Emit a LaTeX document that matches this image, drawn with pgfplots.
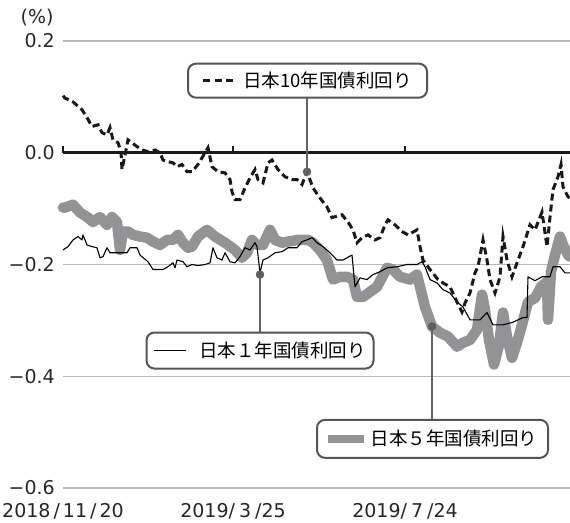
\documentclass[border=0pt]{standalone}
\usepackage{fontspec}
\setmainfont{DejaVu Sans}
\newfontfamily\jp{Noto Sans CJK JP}
\usepackage{pgfplots}
\pgfplotsset{compat=1.18}
\definecolor{gridgray}{RGB}{185,185,185}
\definecolor{sergray}{RGB}{147,147,150}
\definecolor{boxgray}{RGB}{85,85,85}
\definecolor{leadgray}{RGB}{100,100,100}
\definecolor{dotgray}{RGB}{95,95,95}
\newcommand{\dashsample}{{\color{black!90}\rule[5.5bp]{7bp}{2.8bp}\hspace{4.5bp}\rule[5.5bp]{7bp}{2.8bp}\hspace{4.5bp}\rule[5.5bp]{7bp}{2.8bp}}}
\newcommand{\solidsample}{{\color{black}\rule[6.2bp]{32bp}{1.1bp}}}
\newcommand{\graysample}{{\color{sergray}\rule[3bp]{36bp}{7.5bp}}}
\begin{document}
\begin{tikzpicture}
\begin{axis}[
  name=ax, at={(0,0)}, anchor=south west,
  scale only axis, width=507bp, height=447bp,
  xmin=0, xmax=507, ymin=-0.6, ymax=0.2,
  clip=false,
  axis line style={draw=none},
  major tick length=0pt,
  ytick={-0.6,-0.4,-0.2,0,0.2},
  yticklabels={−0.6,−0.4,−0.2,0.0,0.2},
  xtick={0,170,342},
  xticklabels={2018\kern3bp/\kern3bp11\kern3bp/\kern3bp20, 2019/\kern4bp3\kern4bp/25, 2019/\kern4bp7\kern4bp/24},
  ymajorgrids, grid style={color=gridgray, line width=1.3bp},
  tick label style={font=\fontsize{19bp}{22bp}\selectfont, color=black!85},
  yticklabel style={anchor=east, inner sep=0pt, xshift=-8bp},
  xticklabel style={anchor=base, inner sep=0pt, yshift=-29bp},
]
% zero line with small ticks
\draw[black!90, line width=2.6bp] (axis cs:0,0) -- (axis cs:507,0);
\draw[black!90, line width=2bp] (axis cs:0,0) -- (axis cs:0,0.0125);
\draw[black!90, line width=2bp] (axis cs:170,0) -- (axis cs:170,0.0125);
\draw[black!90, line width=2bp] (axis cs:342,0) -- (axis cs:342,0.0125);

% 5-year (thick gray)
\addplot[sergray, line width=10.5bp, line join=round, line cap=round] coordinates {
(0,-0.098) (2,-0.098) (10,-0.093) (17,-0.107) (25,-0.116) (30,-0.124) (37,-0.115) (44,-0.129) (49,-0.115) (54,-0.124) (57,-0.174) (60,-0.141) (65,-0.141) (70,-0.147) (77,-0.150) (84,-0.152) (90,-0.159) (97,-0.165) (104,-0.156) (110,-0.156) (115,-0.147) (120,-0.161) (125,-0.170) (129,-0.168) (135,-0.150) (144,-0.138) (152,-0.150) (162,-0.161) (172,-0.174) (179,-0.188) (184,-0.179) (189,-0.156) (194,-0.165) (200,-0.165) (207,-0.138) (212,-0.156) (219,-0.161) (225,-0.159) (235,-0.156) (245,-0.156) (250,-0.161) (257,-0.174) (264,-0.192) (270,-0.227) (277,-0.222) (284,-0.222) (290,-0.227) (294,-0.258) (300,-0.258) (307,-0.249) (314,-0.240) (324,-0.206) (330,-0.209) (337,-0.222) (347,-0.227) (354,-0.218) (357,-0.240) (362,-0.276) (369,-0.311) (377,-0.322) (385,-0.329) (394,-0.347) (400,-0.340) (407,-0.335) (414,-0.317) (419,-0.254) (422,-0.281) (426,-0.335) (431,-0.379) (436,-0.344) (440,-0.286) (444,-0.329) (449,-0.367) (454,-0.340) (459,-0.308) (465,-0.267) (472,-0.260) (478,-0.240) (484,-0.231) (485,-0.299) (488,-0.213) (492,-0.183) (497,-0.150) (500,-0.165) (505,-0.183) (507,-0.186)
};

% 1-year (thin black)
\addplot[black, line width=1.1bp, line join=round] coordinates {
(0,-0.174) (5,-0.168) (10,-0.156) (15,-0.150) (19,-0.156) (20,-0.147) (24,-0.165) (29,-0.168) (34,-0.170) (37,-0.188) (40,-0.186) (44,-0.170) (47,-0.179) (55,-0.179) (64,-0.179) (67,-0.170) (74,-0.170) (77,-0.183) (85,-0.195) (90,-0.209) (100,-0.209) (105,-0.204) (110,-0.197) (112,-0.206) (114,-0.192) (120,-0.195) (124,-0.204) (129,-0.200) (135,-0.202) (142,-0.200) (147,-0.197) (150,-0.170) (154,-0.188) (159,-0.192) (162,-0.179) (167,-0.195) (172,-0.197) (177,-0.186) (182,-0.170) (187,-0.174) (192,-0.161) (194,-0.168) (197,-0.215) (200,-0.192) (205,-0.188) (212,-0.179) (219,-0.177) (225,-0.170) (234,-0.170) (239,-0.159) (244,-0.156) (249,-0.152) (254,-0.161) (260,-0.168) (267,-0.179) (274,-0.192) (280,-0.192) (289,-0.183) (292,-0.240) (297,-0.224) (304,-0.227) (310,-0.218) (317,-0.213) (324,-0.206) (334,-0.204) (344,-0.200) (354,-0.200) (359,-0.195) (362,-0.204) (367,-0.227) (374,-0.233) (380,-0.245) (387,-0.251) (394,-0.267) (400,-0.276) (407,-0.299) (417,-0.299) (424,-0.286) (430,-0.308) (440,-0.308) (449,-0.304) (460,-0.295) (464,-0.295) (465,-0.222) (472,-0.229) (479,-0.222) (487,-0.222) (490,-0.204) (497,-0.204) (502,-0.215) (507,-0.215)
};

% 10-year (dashed)
\addplot[black!90, line width=3bp, dash pattern=on 7bp off 4bp] coordinates {
(0,0.102) (2,0.098) (10,0.091) (19,0.077) (24,0.063) (29,0.047) (35,0.050) (39,0.036) (44,0.032) (47,0.045) (50,0.023) (55,0.018) (58,0.002) (59,-0.030) (62,-0.004) (65,0.023) (69,0.018) (74,0.011) (79,0.005) (85,0.002) (92,0.005) (97,0.000) (100,-0.013) (105,-0.016) (110,-0.018) (114,-0.025) (119,-0.021) (124,-0.034) (129,-0.034) (135,-0.021) (142,0.000) (145,0.009) (149,-0.025) (155,-0.034) (162,-0.036) (167,-0.048) (169,-0.070) (172,-0.084) (177,-0.084) (182,-0.063) (187,-0.045) (192,-0.030) (195,-0.048) (200,-0.054) (205,-0.018) (209,-0.013) (215,-0.030) (222,-0.043) (229,-0.048) (234,-0.048) (239,-0.057) (244,-0.034) (250,-0.063) (257,-0.081) (264,-0.097) (269,-0.116) (279,-0.111) (285,-0.124) (290,-0.138) (294,-0.161) (299,-0.152) (305,-0.147) (312,-0.156) (317,-0.152) (322,-0.129) (325,-0.120) (332,-0.129) (339,-0.141) (345,-0.147) (354,-0.138) (357,-0.168) (360,-0.192) (367,-0.209) (375,-0.227) (380,-0.233) (387,-0.240) (394,-0.267) (399,-0.285) (402,-0.269) (407,-0.251) (412,-0.215) (415,-0.204) (420,-0.156) (424,-0.192) (427,-0.227) (432,-0.251) (437,-0.222) (440,-0.150) (444,-0.192) (449,-0.222) (454,-0.197) (460,-0.168) (467,-0.129) (472,-0.138) (479,-0.106) (484,-0.168) (487,-0.115) (490,-0.066) (495,-0.043) (498,-0.021) (500,-0.061) (505,-0.079) (507,-0.081)
};

% leader lines
\draw[leadgray, line width=1.5bp] (axis cs:244,0.098) -- (axis cs:244,-0.034);
\draw[leadgray, line width=1.5bp] (axis cs:197,-0.322) -- (axis cs:197,-0.218);
\draw[leadgray, line width=1.5bp] (axis cs:369,-0.478) -- (axis cs:369,-0.311);
% dots
\addplot[only marks, mark=*, mark size=4bp, color=dotgray] coordinates {(244,-0.034) (197,-0.218) (369,-0.311)};

% callout boxes
\node[draw=boxgray, line width=2bp, rounded corners=8bp, fill=white, minimum width=239bp, minimum height=34bp, inner sep=0pt, font=\jp\fontsize{18.5bp}{22bp}\selectfont]
  at (axis cs:244.5,0.129) {\dashsample\hspace{10bp}日本10年国債利回り};
\node[draw=boxgray, line width=2bp, rounded corners=8bp, fill=white, minimum width=227bp, minimum height=36bp, inner sep=0pt, font=\jp\fontsize{18.5bp}{22bp}\selectfont]
  at (axis cs:197,-0.354) {\solidsample\hspace{13bp}日本１年国債利回り};
\node[draw=boxgray, line width=2bp, rounded corners=8bp, fill=white, minimum width=231bp, minimum height=38bp, inner sep=0pt, font=\jp\fontsize{18.5bp}{22bp}\selectfont]
  at (axis cs:369.5,-0.512) {\graysample\hspace{7bp}日本５年国債利回り};

% unit label
\node[font=\fontsize{19bp}{22bp}\selectfont, color=black!85] at (rel axis cs:-0.051,1.052) {(\%)};
\end{axis}
\pgfresetboundingbox
\path (ax.south west) ++(-63bp,-35bp) rectangle ++(570bp,523bp);
\end{tikzpicture}
\end{document}
